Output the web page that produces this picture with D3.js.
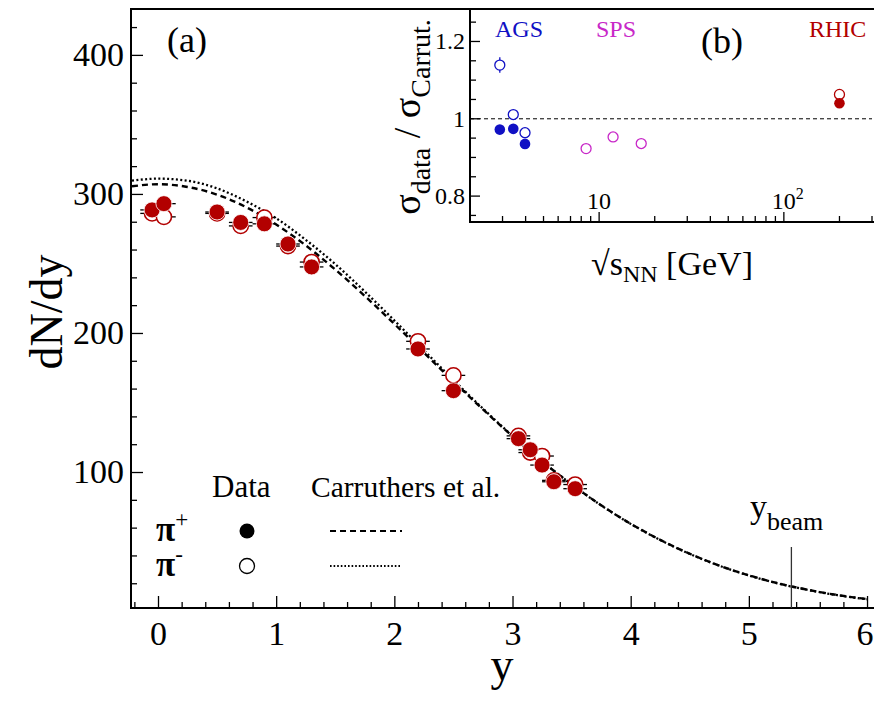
<!DOCTYPE html>
<html>
<head>
<meta charset="utf-8">
<script src="https://cdn.jsdelivr.net/npm/d3@7"></script>
<style>
  body { margin: 0; background: #fff; }
  svg { display: block; }
  text { font-family: "Liberation Serif", "Times New Roman", serif; fill: #000; }
</style>
</head>
<body>
<svg id="chart" width="874" height="702"></svg>
<script>
// ---- main panel (a): dN/dy vs rapidity ----
const dataRap = [-0.05, 0.05, 0.5, 0.7, 0.9, 1.1, 1.3, 2.2, 2.5, 3.05, 3.15, 3.25, 3.35, 3.53];
const dataPiPlus = [288.5, 293, 287, 279.5, 278.5, 264, 247.5, 188.5, 158.5, 124, 116, 105, 93, 88];
const dataPiMinus = [286, 283.5, 286, 277, 283, 262.5, 251, 194, 169.5, 126, 114, 111.5, 94, 91];
const rapErr = 0.1;

// Carruthers et al. curves
const curveRap = [-0.22, 0, 0.25, 0.5, 0.75, 1, 1.25, 1.5, 1.75, 2, 2.25, 2.5, 2.75, 3, 3.25, 3.5, 3.75, 4, 4.25, 4.5, 4.75, 5, 5.25, 5.5, 5.75, 6];
const curvePiPlus = [305.5, 307, 305, 299.5, 290.3, 278, 263, 245.6, 226.6, 206.5, 185.8, 165.1, 145, 125.7, 107.7, 91.1, 76.1, 62.8, 51.2, 41.2, 32.7, 25.7, 19.9, 15.3, 11.5, 8.6];
const curvePiMinus = [309.5, 311, 309.5, 304, 294.5, 282.5, 267, 249.5, 229.8, 209, 187.5, 166.2, 145.6, 126, 107.8, 91.1, 76, 62.7, 51.1, 41.1, 32.6, 25.6, 19.8, 15.2, 11.4, 8.5];

const yBeam = 5.36;
const xTicks = [0, 1, 2, 3, 4, 5, 6];
const yTicks = [100, 200, 300, 400];

// ---- inset (b): sigma ratio vs sqrt(s_NN) ----
const agsEnergy = [2.9, 3.43, 3.97];
const agsPlus = [0.972, 0.974, 0.935];
const agsMinus = [1.139, 1.011, 0.964];
const agsMinusErr = [0.02, 0, 0];
const spsEnergy = [8.5, 11.9, 16.9];
const spsMinus = [0.923, 0.953, 0.936];
const rhicEnergy = [200];
const rhicPlus = [1.040];
const rhicMinus = [1.063];
const insetYTicks = [0.8, 1, 1.2];

const red = '#b20000', blue = '#1010c4', magenta = '#c828c8';

const svg = d3.select('#chart');

// scales
const x = d3.scaleLinear().domain([-0.2285, 6.059]).range([131, 874]);
const y = d3.scaleLinear().domain([2.2, 433]).range([608, 9]);

// minor ticks
const minorX = d3.range(-0.2, 6.01, 0.2).filter(v => Math.abs(v - Math.round(v)) > 1e-6);
const minorY = d3.range(20, 430, 20).filter(v => v % 100 !== 0);

const gx = svg.append('g').attr('transform', 'translate(0,608)');
gx.call(d3.axisBottom(x).tickValues(xTicks).tickSize(-12).tickPadding(13).tickFormat(d3.format('d')));
gx.append('g').call(d3.axisBottom(x).tickValues(minorX).tickSize(-6).tickFormat(''));
gx.selectAll('.domain').remove();
gx.selectAll('line').attr('stroke', '#000').attr('stroke-width', 1.3);
gx.selectAll('text').attr('font-size', 34).attr('font-family', '"Liberation Serif", serif');
// keep the last label inside the page
gx.selectAll('.tick text').filter(d => d === 6).attr('text-anchor', 'end').attr('dx', 6);

const gy = svg.append('g').attr('transform', 'translate(131,0)');
gy.call(d3.axisLeft(y).tickValues(yTicks).tickSize(-12).tickPadding(7));
gy.append('g').call(d3.axisLeft(y).tickValues(minorY).tickSize(-6).tickFormat(''));
gy.selectAll('.domain').remove();
gy.selectAll('line').attr('stroke', '#000').attr('stroke-width', 1.3);
gy.selectAll('text').attr('font-size', 34).attr('font-family', '"Liberation Serif", serif');

// frame
svg.append('path')
  .attr('d', 'M874,9 H131 V608 H874')
  .attr('fill', 'none').attr('stroke', '#000').attr('stroke-width', 2);

// curves
const line = d3.line().x(d => x(d[0])).y(d => y(d[1])).curve(d3.curveMonotoneX);
svg.append('path')
  .attr('d', line(curveRap.map((r, i) => [r, curvePiMinus[i]])))
  .attr('fill', 'none').attr('stroke', '#000').attr('stroke-width', 2.3)
  .attr('stroke-dasharray', '2,2.4');
svg.append('path')
  .attr('d', line(curveRap.map((r, i) => [r, curvePiPlus[i]])))
  .attr('fill', 'none').attr('stroke', '#000').attr('stroke-width', 2.4)
  .attr('stroke-dasharray', '6,4');

// y_beam marker
svg.append('line')
  .attr('x1', x(yBeam)).attr('x2', x(yBeam))
  .attr('y1', 547).attr('y2', 608)
  .attr('stroke', '#333').attr('stroke-width', 1.3);
const yb = svg.append('text').attr('x', 750).attr('y', 518).attr('font-size', 34);
yb.append('tspan').text('y');
yb.append('tspan').attr('dy', 12).attr('font-size', 26).text('beam');

// data points
const pts = dataRap.map((r, i) => ({ r, p: dataPiPlus[i], m: dataPiMinus[i] }));
const gd = svg.append('g');
gd.selectAll('.eb-m').data(pts).join('line')
  .attr('x1', d => x(d.r - rapErr)).attr('x2', d => x(d.r + rapErr))
  .attr('y1', d => y(d.m)).attr('y2', d => y(d.m))
  .attr('stroke', '#000').attr('stroke-width', 1.3);
gd.selectAll('.eb-p').data(pts).join('line')
  .attr('x1', d => x(d.r - rapErr)).attr('x2', d => x(d.r + rapErr))
  .attr('y1', d => y(d.p)).attr('y2', d => y(d.p))
  .attr('stroke', '#000').attr('stroke-width', 1.3);
gd.selectAll('.open').data(pts).join('circle')
  .attr('cx', d => x(d.r)).attr('cy', d => y(d.m)).attr('r', 7.6)
  .attr('fill', '#fff').attr('stroke', red).attr('stroke-width', 1.6);
gd.selectAll('.filled').data(pts).join('circle')
  .attr('cx', d => x(d.r)).attr('cy', d => y(d.p)).attr('r', 8)
  .attr('fill', red).attr('stroke', '#fff').attr('stroke-width', 0.8);

// panel label
svg.append('text').attr('x', 167).attr('y', 52).attr('font-size', 36).text('(a)');

// axis titles
svg.append('text').attr('transform', 'translate(62,312) rotate(-90)')
  .attr('text-anchor', 'middle').attr('font-size', 46).text('dN/dy');
svg.append('text').attr('x', 502).attr('y', 680)
  .attr('text-anchor', 'middle').attr('font-size', 46).text('y');

// legend
svg.append('text').attr('x', 212).attr('y', 497).attr('font-size', 31).text('Data');
svg.append('text').attr('x', 311).attr('y', 497).attr('font-size', 29.5).text('Carruthers et al.');
const lp = svg.append('text').attr('x', 156).attr('y', 541).attr('font-size', 35).attr('font-weight', 'bold');
lp.append('tspan').text('π');
lp.append('tspan').attr('dy', -14).attr('font-size', 23).attr('font-weight', 'normal').text('+');
const lm = svg.append('text').attr('x', 156).attr('y', 576).attr('font-size', 35).attr('font-weight', 'bold');
lm.append('tspan').text('π');
lm.append('tspan').attr('dy', -14).attr('font-size', 23).attr('font-weight', 'normal').text('-');
svg.append('circle').attr('cx', 247).attr('cy', 531).attr('r', 7.5).attr('fill', '#000');
svg.append('circle').attr('cx', 247).attr('cy', 566).attr('r', 7.5)
  .attr('fill', '#fff').attr('stroke', '#000').attr('stroke-width', 1.3);
svg.append('line').attr('x1', 330).attr('x2', 402).attr('y1', 531).attr('y2', 531)
  .attr('stroke', '#000').attr('stroke-width', 2).attr('stroke-dasharray', '6,4');
svg.append('line').attr('x1', 330).attr('x2', 402).attr('y1', 566).attr('y2', 566)
  .attr('stroke', '#000').attr('stroke-width', 2).attr('stroke-dasharray', '1.6,2');

// ---- inset ----
const ix = d3.scaleLog().domain([2, 300]).range([470, 872]);
const iy = d3.scaleLinear().domain([0.733, 1.284]).range([222, 9]);
const gi = svg.append('g');
gi.append('rect').attr('x', 370).attr('y', 10).attr('width', 504).attr('height', 280).attr('fill', '#fff');

// inset ticks
const insetMinorX = [3, 4, 5, 6, 7, 8, 9, 20, 30, 40, 50, 60, 70, 80, 90, 200, 300];
gi.selectAll('.ixmaj').data([10, 100]).join('line')
  .attr('x1', d => ix(d)).attr('x2', d => ix(d)).attr('y1', 222).attr('y2', 212)
  .attr('stroke', '#000').attr('stroke-width', 1.3);
gi.selectAll('.ixmin').data(insetMinorX).join('line')
  .attr('x1', d => ix(d)).attr('x2', d => ix(d)).attr('y1', 222).attr('y2', 216)
  .attr('stroke', '#000').attr('stroke-width', 1.3);
const insetMinorY = d3.range(0.75, 1.26, 0.05).filter(v => Math.abs(v * 5 - Math.round(v * 5)) > 1e-6);
gi.selectAll('.iymaj').data(insetYTicks).join('line')
  .attr('x1', 470).attr('x2', 480).attr('y1', d => iy(d)).attr('y2', d => iy(d))
  .attr('stroke', '#000').attr('stroke-width', 1.3);
gi.selectAll('.iymin').data(insetMinorY).join('line')
  .attr('x1', 470).attr('x2', 476).attr('y1', d => iy(d)).attr('y2', d => iy(d))
  .attr('stroke', '#000').attr('stroke-width', 1.3);
gi.selectAll('.iylab').data(insetYTicks).join('text')
  .attr('x', 465).attr('y', d => iy(d) + 8).attr('text-anchor', 'end')
  .attr('font-size', 24).text(d => d3.format('~g')(d));
gi.append('text').attr('x', ix(10)).attr('y', 209).attr('text-anchor', 'middle')
  .attr('font-size', 24).text('10');
const t100 = gi.append('text').attr('x', ix(100) + 4).attr('y', 209)
  .attr('text-anchor', 'middle').attr('font-size', 24);
t100.append('tspan').text('10');
t100.append('tspan').attr('dy', -10).attr('font-size', 16).text('2');

// inset frame
gi.append('path').attr('d', 'M470,9 V222 H874')
  .attr('fill', 'none').attr('stroke', '#000').attr('stroke-width', 2);

// reference line at 1
gi.append('line').attr('x1', 470).attr('x2', 872).attr('y1', iy(1)).attr('y2', iy(1))
  .attr('stroke', '#000').attr('stroke-width', 1).attr('stroke-dasharray', '4,3');

// inset points
gi.selectAll('.aerr').data(agsEnergy.map((e, i) => [e, agsMinus[i], agsMinusErr[i]]).filter(d => d[2] > 0))
  .join('line')
  .attr('x1', d => ix(d[0])).attr('x2', d => ix(d[0]))
  .attr('y1', d => iy(d[1] - d[2])).attr('y2', d => iy(d[1] + d[2]))
  .attr('stroke', blue).attr('stroke-width', 1.3);
function openPts(en, val, col) {
  gi.append('g').selectAll('circle').data(en.map((e, i) => [e, val[i]])).join('circle')
    .attr('cx', d => ix(d[0])).attr('cy', d => iy(d[1])).attr('r', 5)
    .attr('fill', '#fff').attr('stroke', col).attr('stroke-width', 1.3);
}
function filledPts(en, val, col) {
  gi.append('g').selectAll('circle').data(en.map((e, i) => [e, val[i]])).join('circle')
    .attr('cx', d => ix(d[0])).attr('cy', d => iy(d[1])).attr('r', 5.3)
    .attr('fill', col);
}
openPts(agsEnergy, agsMinus, blue);
filledPts(agsEnergy, agsPlus, blue);
openPts(spsEnergy, spsMinus, magenta);
openPts(rhicEnergy, rhicMinus, red);
filledPts(rhicEnergy, rhicPlus, red);

// inset labels
gi.append('text').attr('x', 495).attr('y', 37).attr('font-size', 24).style('fill', blue).text('AGS');
gi.append('text').attr('x', 596).attr('y', 37).attr('font-size', 24).style('fill', magenta).text('SPS');
gi.append('text').attr('x', 701).attr('y', 53).attr('font-size', 36).text('(b)');
gi.append('text').attr('x', 809).attr('y', 37).attr('font-size', 24).style('fill', red).text('RHIC');

// inset axis titles
const iyt = gi.append('text').attr('transform', 'translate(420,117) rotate(-90)')
  .attr('text-anchor', 'middle').attr('font-size', 38);
iyt.append('tspan').text('σ');
iyt.append('tspan').attr('dy', 10).attr('font-size', 28).text('data');
iyt.append('tspan').attr('dy', -10).text(' / σ');
iyt.append('tspan').attr('dy', 10).attr('font-size', 28).text('Carrut.');

const ixt = gi.append('text').attr('x', 672).attr('y', 275)
  .attr('text-anchor', 'middle').attr('font-size', 34);
ixt.append('tspan').text('√s');
ixt.append('tspan').attr('dy', 7).attr('font-size', 24).text('NN');
ixt.append('tspan').attr('dy', -7).text(' [GeV]');
</script>
</body>
</html>
